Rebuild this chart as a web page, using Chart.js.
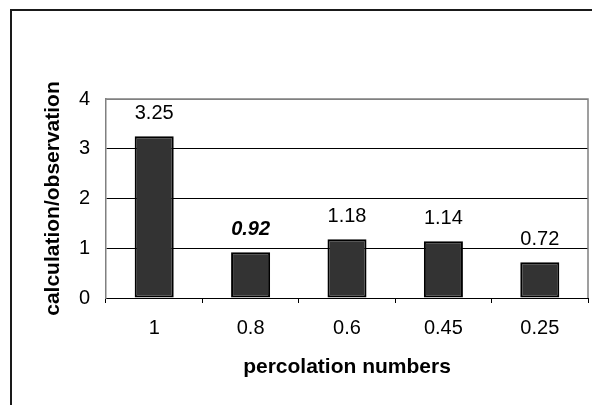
<!DOCTYPE html>
<html>
<head>
<meta charset="utf-8">
<script src="https://cdn.jsdelivr.net/npm/chart.js@4/dist/chart.umd.min.js"></script>
<style>
    body { margin: 0; background: #fff; }
    canvas { display: block; }
</style>
</head>
<body>
<canvas id="grafico" width="592" height="405"></canvas>
<script>
// datos
const categorias = ["1", "0.8", "0.6", "0.45", "0.25"];
const valores = [3.25, 0.92, 1.18, 1.14, 0.72];
const etiquetas = ["3.25", "0.92", "1.18", "1.14", "0.72"];
const ticksY = [0, 1, 2, 3, 4];

const tituloX = "percolation numbers";
const tituloY = "calculation/observation";

const fuente = "'Liberation Sans', Arial, sans-serif";
const destacada = 1; // la etiqueta 0.92 va en negrita cursiva

const ctx = document.getElementById("grafico");

// marco exterior (solo arriba e izquierda) y borde gris del área
const marco = {
    id: "marco",
    beforeDraw(chart) {
        const c = chart.ctx;
        c.save();
        c.fillStyle = "#fff";
        c.fillRect(0, 0, chart.width, chart.height);
        c.strokeStyle = "#1a1a1a";
        c.lineWidth = 2;
        c.beginPath();
        c.moveTo(chart.width, 10);
        c.lineTo(11, 10);
        c.lineTo(11, chart.height);
        c.stroke();
        c.restore();
    },
    afterDraw(chart) {
        const a = chart.chartArea;
        const c = chart.ctx;
        c.save();
        c.strokeStyle = "#808080";
        c.lineWidth = 1.5;
        c.beginPath();
        c.moveTo(a.left, a.top);
        c.lineTo(a.right, a.top);
        c.lineTo(a.right, a.bottom);
        c.stroke();
        c.restore();
    }
};

// valores encima de cada barra
const rotulos = {
    id: "rotulos",
    afterDatasetsDraw(chart) {
        const c = chart.ctx;
        const meta = chart.getDatasetMeta(0);
        c.save();
        c.fillStyle = "#000";
        c.textAlign = "center";
        c.textBaseline = "middle";
        meta.data.forEach((barra, i) => {
            c.font = (i === destacada ? "italic bold " : "") + "20px " + fuente;
            c.fillText(etiquetas[i], barra.x, barra.y - 23);
        });
        c.restore();
    }
};

new Chart(ctx, {
    type: "bar",
    data: {
        labels: categorias,
        datasets: [{
            data: valores,
            backgroundColor: "#333333",
            borderColor: "#000",
            borderWidth: 2,
            borderSkipped: false,
            categoryPercentage: 1,
            barPercentage: 0.405
        }]
    },
    options: {
        responsive: false,
        animation: false,
        events: [],
        layout: { padding: { left: 12, top: 99, right: 4, bottom: 0 } },
        plugins: {
            legend: { display: false },
            tooltip: { enabled: false }
        },
        scales: {
            x: {
                offset: true,
                grid: {
                    offset: true,
                    drawOnChartArea: false,
                    drawTicks: true,
                    tickLength: 5,
                    color: "#000"
                },
                border: { color: "#000", width: 1 },
                ticks: {
                    color: "#000",
                    padding: 13,
                    maxRotation: 0,
                    font: { family: fuente, size: 20 }
                },
                title: {
                    display: true,
                    text: tituloX,
                    color: "#000",
                    padding: { top: 25, bottom: 25 },
                    font: { family: fuente, size: 21, weight: "bold" }
                },
                afterFit(scale) { scale.height = 107; }
            },
            y: {
                min: 0,
                max: 4,
                afterBuildTicks(scale) {
                    scale.ticks = ticksY.map(v => ({ value: v }));
                },
                grid: {
                    drawTicks: false,
                    color: c => c.tick && c.tick.value === 4 ? "#808080" : "#000",
                    lineWidth: 1
                },
                border: { color: "#808080", width: 1.5 },
                ticks: {
                    color: "#000",
                    padding: 16,
                    font: { family: fuente, size: 20 }
                },
                title: {
                    display: true,
                    text: tituloY,
                    color: "#000",
                    padding: { top: 29, bottom: 29 },
                    font: { family: fuente, size: 21, weight: "bold" }
                },
                afterFit(scale) { scale.width = 94; }
            }
        }
    },
    plugins: [marco, rotulos]
});
</script>
</body>
</html>
